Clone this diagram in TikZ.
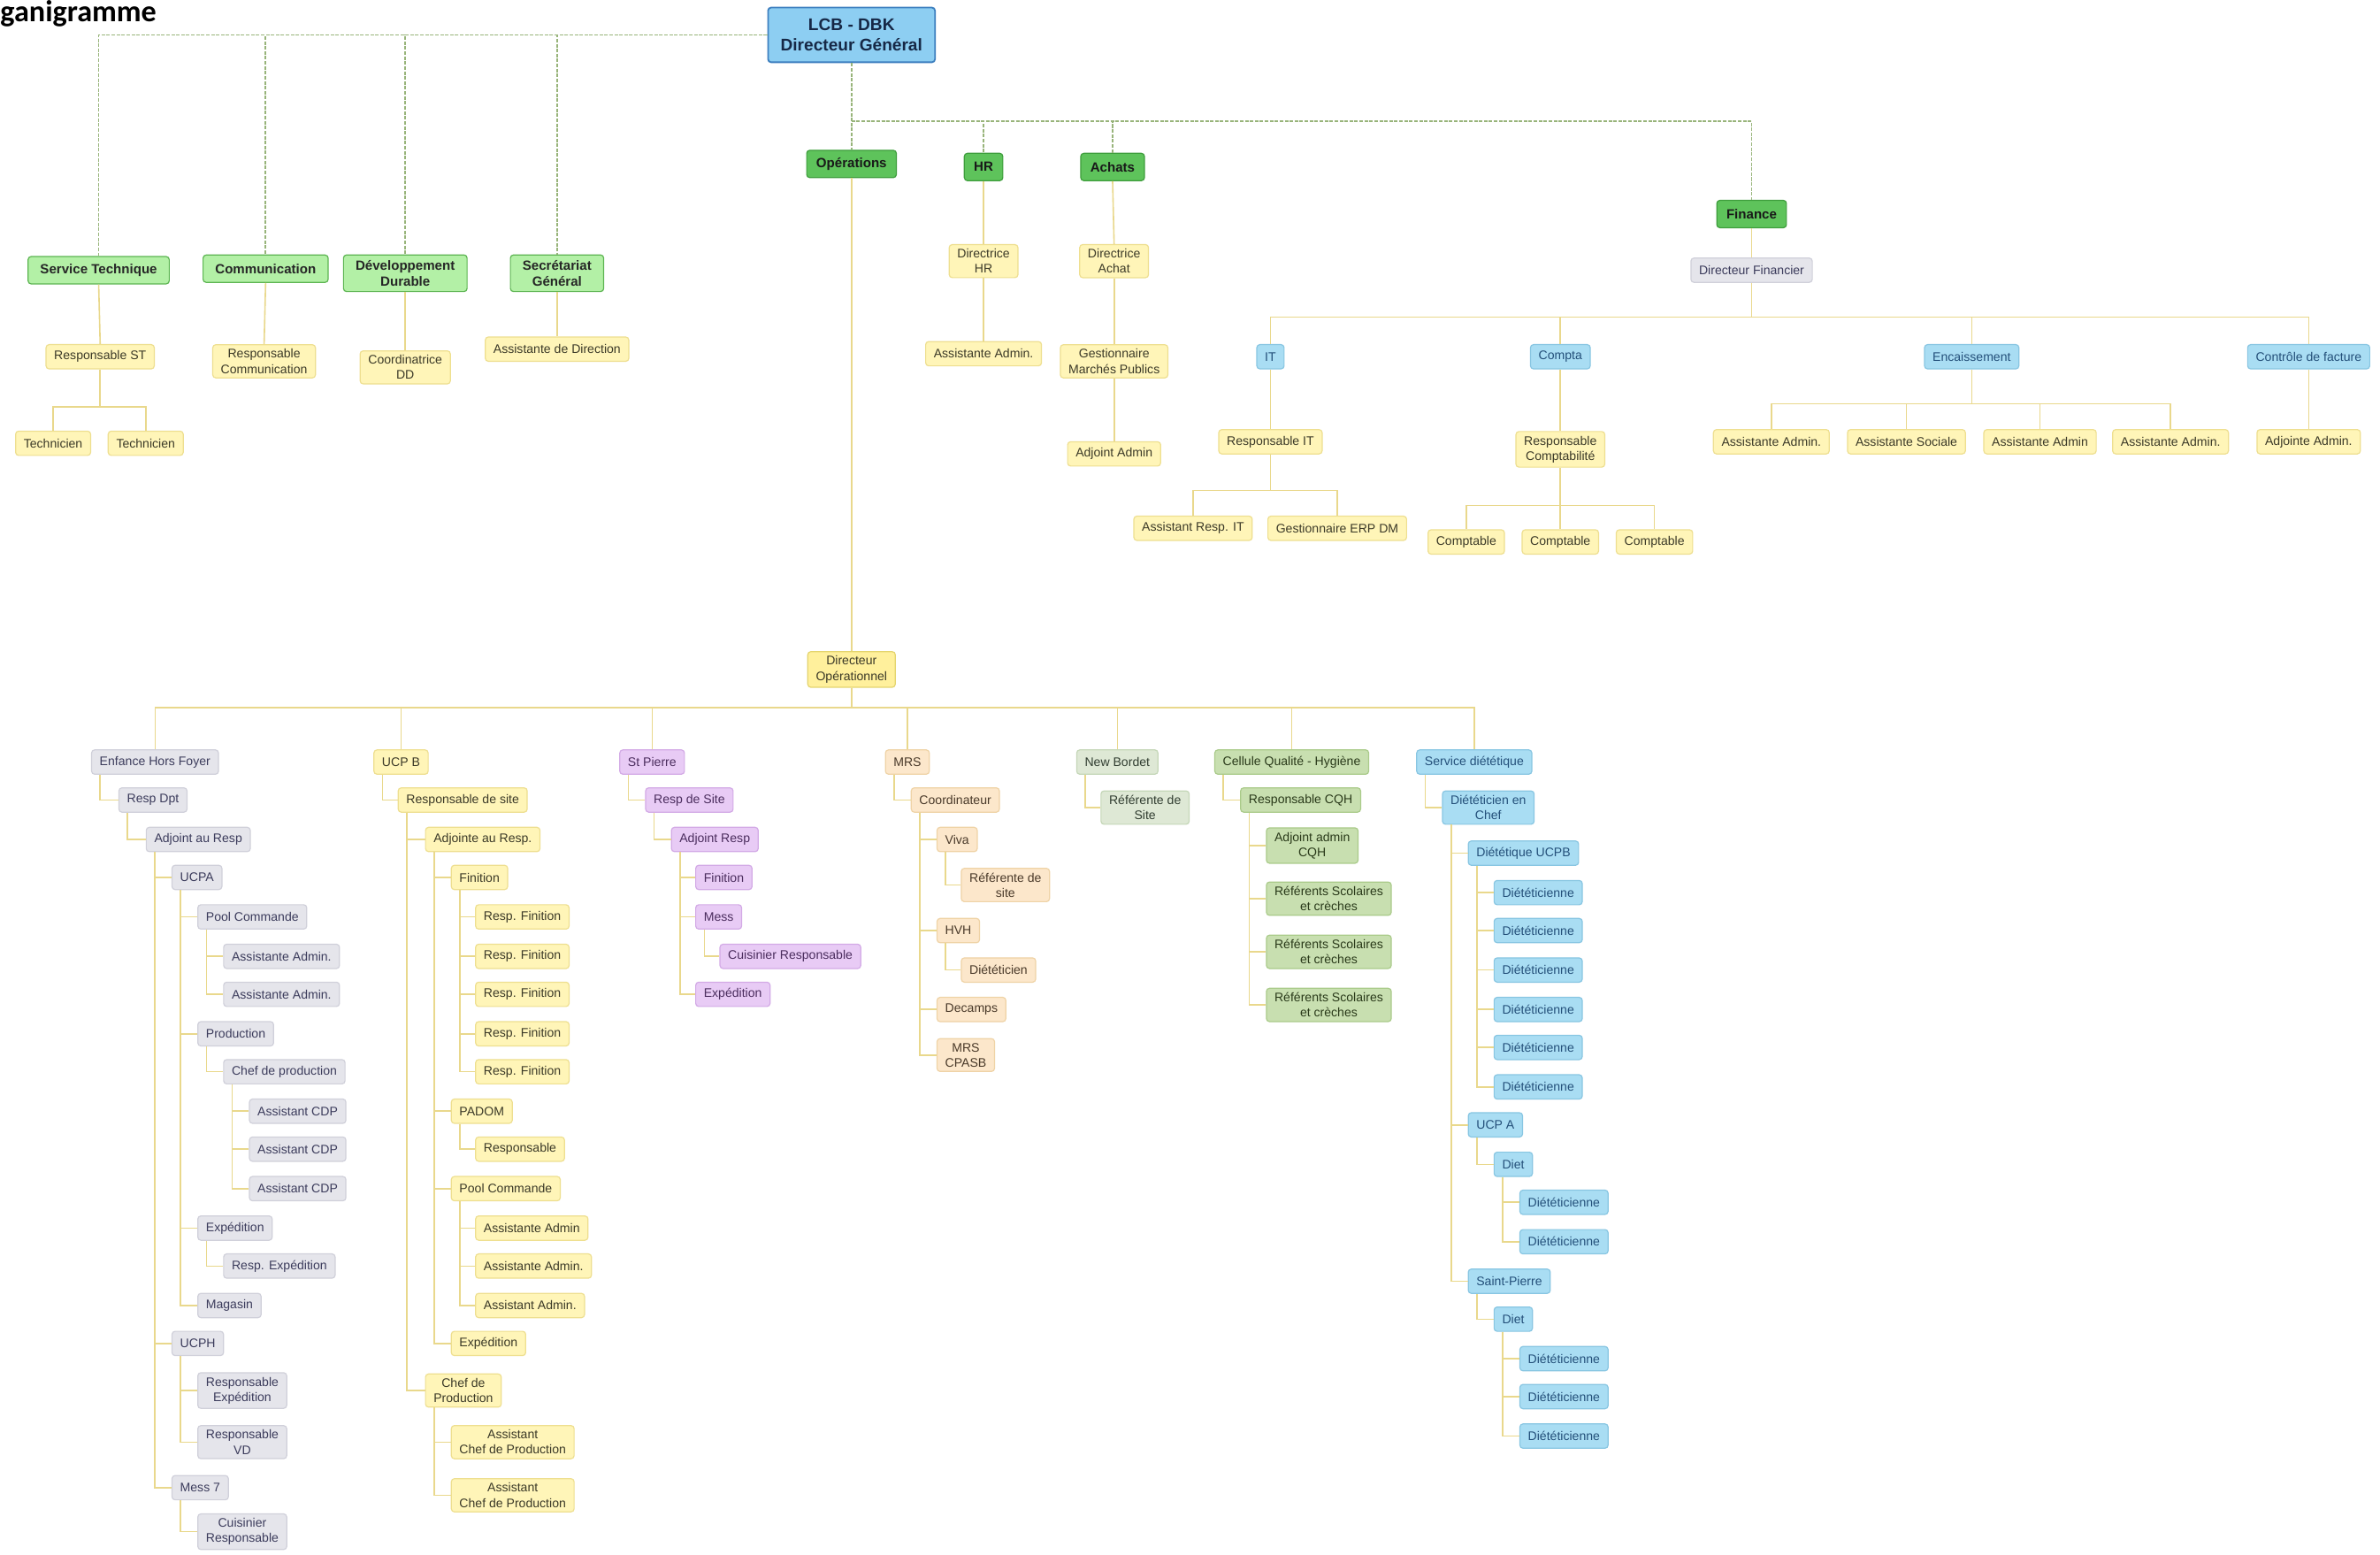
\documentclass[tikz,border=0pt]{standalone}
\usepackage{fontspec}
\setmainfont{Liberation Sans}
\newfontfamily\titlefont{Carlito}
\usepackage{tikz}

\definecolor{dgfill}{HTML}{8DCEF2}
\definecolor{dgline}{HTML}{3D7FBF}
\definecolor{deptfill}{HTML}{B3F0A6}
\definecolor{deptline}{HTML}{5DB552}
\definecolor{polefill}{HTML}{5EC35B}
\definecolor{poleline}{HTML}{3E9E3C}
\definecolor{yelfill}{HTML}{FFF5B8}
\definecolor{yelline}{HTML}{EEDF90}
\definecolor{opfill}{HTML}{FFF09C}
\definecolor{gryfill}{HTML}{E5E5EB}
\definecolor{gryline}{HTML}{D0D0DA}
\definecolor{blufill}{HTML}{A9DDF3}
\definecolor{bluline}{HTML}{88C6E2}
\definecolor{purfill}{HTML}{E8CBF5}
\definecolor{purline}{HTML}{D3AAE6}
\definecolor{pchfill}{HTML}{FCE7CB}
\definecolor{pchline}{HTML}{EFD3A6}
\definecolor{sagfill}{HTML}{DEE8D5}
\definecolor{sagline}{HTML}{C5D7B8}
\definecolor{cqhfill}{HTML}{C8DFB0}
\definecolor{cqhline}{HTML}{AACB8A}
\definecolor{tancol}{HTML}{E9D88C}
\definecolor{topcol}{HTML}{98B47A}

\newcommand{\sublink}[2]{\draw[tline] ([xshift=1.8mm]#1.south west) |- (#2.west);}

\begin{document}
\begin{tikzpicture}[x=0.3mm, y=-0.3mm,
	box/.style={rounded corners=0.6mm, line width=0.6pt, font=\fontsize{7}{8.5}\selectfont, inner xsep=1.6mm, inner ysep=2.5pt, minimum height=4.8mm, align=center, text=black!78},
	yel/.style={box, fill=yelfill, draw=yelline, text={rgb,255:red,60;green,58;blue,40}},
	yop/.style={box, fill=opfill, draw={rgb,255:red,228;green,212;blue,110}, text={rgb,255:red,60;green,58;blue,40}},
	gry/.style={box, fill=gryfill, draw=gryline, text={rgb,255:red,60;green,60;blue,92}},
	blu/.style={box, fill=blufill, draw=bluline, text={rgb,255:red,36;green,80;blue,122}},
	pur/.style={box, fill=purfill, draw=purline, text={rgb,255:red,75;green,45;blue,94}},
	pch/.style={box, fill=pchfill, draw=pchline, text={rgb,255:red,74;green,58;blue,42}},
	sag/.style={box, fill=sagfill, draw=sagline, text={rgb,255:red,50;green,62;blue,50}},
	cqh/.style={box, fill=cqhfill, draw=cqhline, text={rgb,255:red,42;green,58;blue,26}},
	dept/.style={box, fill=deptfill, draw=deptline, font=\bfseries\fontsize{7.5}{9}\selectfont, inner xsep=2.4mm, inner ysep=3pt, minimum height=5.4mm, text=black!85},
	pole/.style={box, fill=polefill, draw=poleline, font=\bfseries\fontsize{7.5}{9}\selectfont, inner xsep=1.9mm, minimum height=5.4mm, text=black!90},
	topbox/.style={box, fill=dgfill, draw=dgline, line width=0.9pt, font=\bfseries\fontsize{9.5}{11.5}\selectfont, minimum height=10.8mm, minimum width=33mm, text={rgb,255:red,22;green,40;blue,70}},
	tw/.style={anchor=west},
	tline/.style={draw=tancol, line width=0.8pt},
	gline/.style={draw=topcol, line width=0.9pt, dash pattern=on 2pt off 0.8pt}]

	\path[use as bounding box, fill=white] (0,0) rectangle (1568,1024);

	\node[font={\titlefont\bfseries\fontsize{17}{20}\selectfont}, anchor=west, inner sep=0pt] (ttl) at (0,9) {ganigramme};

	\node[topbox] (dg) at (561,23) {LCB - DBK\\Directeur Général};

	\node[dept] (st) at (65,178) {Service Technique};
	\node[dept] (com) at (175,177) {Communication};
	\node[dept] (dd) at (267,180) {Développement\\Durable};
	\node[dept] (sg) at (367,180) {Secrétariat\\Général};

	\node[pole] (ops) at (561,108) {Opérations};
	\node[pole] (hr) at (648,110) {HR};
	\node[pole] (ach) at (733,110) {Achats};
	\node[pole] (fin) at (1154,141) {Finance};

	\node[yel] (rst) at (66,235) {Responsable ST};
	\node[yel] (tec1) at (35,292) {Technicien};
	\node[yel] (tec2) at (96,292) {Technicien};
	\node[yel] (rcom) at (174,238) {Responsable\\Communication};
	\node[yel] (cdd) at (267,242) {Coordinatrice\\DD};
	\node[yel] (adir) at (367,230) {Assistante de Direction};

	\node[yel] (dhr) at (648,172) {Directrice\\HR};
	\node[yel] (ahr) at (648,233) {Assistante Admin.};
	\node[yel] (dach) at (734,172) {Directrice\\Achat};
	\node[yel] (gmp) at (734,238) {Gestionnaire\\Marchés Publics};
	\node[yel] (aach) at (734,299) {Adjoint Admin};

	\node[gry] (dfin) at (1154,178) {Directeur Financier};
	\node[blu] (it) at (837,235) {IT};
	\node[blu] (cpt) at (1028,235) {Compta};
	\node[blu] (enc) at (1299,235) {Encaissement};
	\node[blu] (cdf) at (1521,235) {Contrôle de facture};
	\node[yel] (rit) at (837,291) {Responsable IT};
	\node[yel] (arit) at (786,348) {Assistant Resp. IT};
	\node[yel] (erp) at (881,348) {Gestionnaire ERP DM};
	\node[yel] (rcpt) at (1028,296) {Responsable\\Comptabilité};
	\node[yel] (cpt1) at (966,357) {Comptable};
	\node[yel] (cpt2) at (1028,357) {Comptable};
	\node[yel] (cpt3) at (1090,357) {Comptable};
	\node[yel] (enc1) at (1167,291) {Assistante Admin.};
	\node[yel] (enc2) at (1256,291) {Assistante Sociale};
	\node[yel] (enc3) at (1344,291) {Assistante Admin};
	\node[yel] (enc4) at (1430,291) {Assistante Admin.};
	\node[yel] (adf) at (1521,291) {Adjointe Admin.};

	\node[yop] (dop) at (561,441) {Directeur\\Opérationnel};

	\node[gry,tw] (e1) at (60,502) {Enfance Hors Foyer};
	\node[gry,tw] (e2) at (78,527) {Resp Dpt};
	\node[gry,tw] (e3) at (96,553) {Adjoint au Resp};
	\node[gry,tw] (e4) at (113,578) {UCPA};
	\node[gry,tw] (e5) at (130,604) {Pool Commande};
	\node[gry,tw] (e6) at (147,630) {Assistante Admin.};
	\node[gry,tw] (e7) at (147,655) {Assistante Admin.};
	\node[gry,tw] (e8) at (130,681) {Production};
	\node[gry,tw] (e9) at (147,706) {Chef de production};
	\node[gry,tw] (e10) at (164,732) {Assistant CDP};
	\node[gry,tw] (e11) at (164,757) {Assistant CDP};
	\node[gry,tw] (e12) at (164,783) {Assistant CDP};
	\node[gry,tw] (e13) at (130,809) {Expédition};
	\node[gry,tw] (e14) at (147,834) {Resp. Expédition};
	\node[gry,tw] (e15) at (130,860) {Magasin};
	\node[gry,tw] (e16) at (113,885) {UCPH};
	\node[gry,tw] (e17) at (130,916) {Responsable\\Expédition};
	\node[gry,tw] (e18) at (130,950) {Responsable\\VD};
	\node[gry,tw] (e19) at (113,980) {Mess 7};
	\node[gry,tw] (e20) at (130,1009) {Cuisinier\\Responsable};

	\node[yel,tw] (u1) at (246,502) {UCP B};
	\node[yel,tw] (u2) at (262,527) {Responsable de site};
	\node[yel,tw] (u3) at (280,553) {Adjointe au Resp.};
	\node[yel,tw] (u4) at (297,578) {Finition};
	\node[yel,tw] (u5) at (313,604) {Resp. Finition};
	\node[yel,tw] (u6) at (313,630) {Resp. Finition};
	\node[yel,tw] (u7) at (313,655) {Resp. Finition};
	\node[yel,tw] (u8) at (313,681) {Resp. Finition};
	\node[yel,tw] (u9) at (313,706) {Resp. Finition};
	\node[yel,tw] (u10) at (297,732) {PADOM};
	\node[yel,tw] (u11) at (313,757) {Responsable};
	\node[yel,tw] (u12) at (297,783) {Pool Commande};
	\node[yel,tw] (u13) at (313,809) {Assistante Admin};
	\node[yel,tw] (u14) at (313,834) {Assistante Admin.};
	\node[yel,tw] (u15) at (313,860) {Assistant Admin.};
	\node[yel,tw] (u16) at (297,885) {Expédition};
	\node[yel,tw] (u17) at (280,916) {Chef de\\Production};
	\node[yel,tw] (u18) at (297,950) {Assistant\\Chef de Production};
	\node[yel,tw] (u19) at (297,985) {Assistant\\Chef de Production};

	\node[pur,tw] (p1) at (408,502) {St Pierre};
	\node[pur,tw] (p2) at (425,527) {Resp de Site};
	\node[pur,tw] (p3) at (442,553) {Adjoint Resp};
	\node[pur,tw] (p4) at (458,578) {Finition};
	\node[pur,tw] (p5) at (458,604) {Mess};
	\node[pur,tw] (p6) at (474,630) {Cuisinier Responsable};
	\node[pur,tw] (p7) at (458,655) {Expédition};

	\node[pch,tw] (m1) at (583,502) {MRS};
	\node[pch,tw] (m2) at (600,527) {Coordinateur};
	\node[pch,tw] (m3) at (617,553) {Viva};
	\node[pch,tw] (m4) at (633,583) {Référente de\\site};
	\node[pch,tw] (m5) at (617,613) {HVH};
	\node[pch,tw] (m6) at (633,639) {Diététicien};
	\node[pch,tw] (m7) at (617,665) {Decamps};
	\node[pch,tw] (m8) at (617,695) {MRS\\CPASB};

	\node[sag,tw] (n1) at (709,502) {New Bordet};
	\node[sag,tw] (n2) at (725,532) {Référente de\\Site};

	\node[cqh,tw] (q1) at (800,502) {Cellule Qualité - Hygiène};
	\node[cqh,tw] (q2) at (817,527) {Responsable CQH};
	\node[cqh,tw] (q3) at (834,557) {Adjoint admin\\CQH};
	\node[cqh,tw] (q4) at (834,592) {Référents Scolaires\\et crèches};
	\node[cqh,tw] (q5) at (834,627) {Référents Scolaires\\et crèches};
	\node[cqh,tw] (q6) at (834,662) {Référents Scolaires\\et crèches};

	\node[blu,tw] (s1) at (933,502) {Service diététique};
	\node[blu,tw] (s2) at (950,532) {Diététicien en\\Chef};
	\node[blu,tw] (s3) at (967,562) {Diététique UCPB};
	\node[blu,tw] (s4) at (984,588) {Diététicienne};
	\node[blu,tw] (s5) at (984,613) {Diététicienne};
	\node[blu,tw] (s6) at (984,639) {Diététicienne};
	\node[blu,tw] (s7) at (984,665) {Diététicienne};
	\node[blu,tw] (s8) at (984,690) {Diététicienne};
	\node[blu,tw] (s9) at (984,716) {Diététicienne};
	\node[blu,tw] (s10) at (967,741) {UCP A};
	\node[blu,tw] (s11) at (984,767) {Diet};
	\node[blu,tw] (s12) at (1001,792) {Diététicienne};
	\node[blu,tw] (s13) at (1001,818) {Diététicienne};
	\node[blu,tw] (s14) at (967,844) {Saint-Pierre};
	\node[blu,tw] (s15) at (984,869) {Diet};
	\node[blu,tw] (s16) at (1001,895) {Diététicienne};
	\node[blu,tw] (s17) at (1001,920) {Diététicienne};
	\node[blu,tw] (s18) at (1001,946) {Diététicienne};

	\coordinate (bdg) at (561,80);
	\coordinate (bst) at (66,268);
	\coordinate (bfin) at (1154,209);
	\coordinate (brit) at (837,323);
	\coordinate (brc) at (1028,333);
	\coordinate (benc) at (1299,266);
	\coordinate (bop) at (561,466);

	\draw[gline] (dg.west) -| (st.north);
	\draw[gline] (dg.west) -| (com.north);
	\draw[gline] (dg.west) -| (dd.north);
	\draw[gline] (dg.west) -| (sg.north);
	\draw[gline] (dg.south) -- (ops.north);
	\draw[gline] (bdg) -| (hr.north);
	\draw[gline] (bdg) -| (ach.north);
	\draw[gline] (bdg) -| (fin.north);

	\draw[tline] (st.south) -- (rst.north);
	\draw[tline] (rst.south) -- (bst);
	\draw[tline] (bst) -| (tec1.north);
	\draw[tline] (bst) -| (tec2.north);
	\draw[tline] (com.south) -- (rcom.north);
	\draw[tline] (dd.south) -- (cdd.north);
	\draw[tline] (sg.south) -- (adir.north);

	\draw[tline] (hr.south) -- (dhr.north);
	\draw[tline] (dhr.south) -- (ahr.north);
	\draw[tline] (ach.south) -- (dach.north);
	\draw[tline] (dach.south) -- (gmp.north);
	\draw[tline] (gmp.south) -- (aach.north);

	\draw[tline] (fin.south) -- (dfin.north);
	\draw[tline] (dfin.south) -- (bfin);
	\draw[tline] (bfin) -| (it.north);
	\draw[tline] (bfin) -| (cpt.north);
	\draw[tline] (bfin) -| (enc.north);
	\draw[tline] (bfin) -| (cdf.north);
	\draw[tline] (it.south) -- (rit.north);
	\draw[tline] (rit.south) -- (brit);
	\draw[tline] (brit) -| (arit.north);
	\draw[tline] (brit) -| (erp.north);
	\draw[tline] (cpt.south) -- (rcpt.north);
	\draw[tline] (rcpt.south) -- (brc);
	\draw[tline] (brc) -| (cpt1.north);
	\draw[tline] (brc) -| (cpt2.north);
	\draw[tline] (brc) -| (cpt3.north);
	\draw[tline] (enc.south) -- (benc);
	\draw[tline] (benc) -| (enc1.north);
	\draw[tline] (benc) -| (enc2.north);
	\draw[tline] (benc) -| (enc3.north);
	\draw[tline] (benc) -| (enc4.north);
	\draw[tline] (cdf.south) -- (adf.north);

	\draw[tline] (ops.south) -- (dop.north);
	\draw[tline] (dop.south) -- (bop);
	\draw[tline] (bop) -| (e1.north);
	\draw[tline] (bop) -| (u1.north);
	\draw[tline] (bop) -| (p1.north);
	\draw[tline] (bop) -| (m1.north);
	\draw[tline] (bop) -| (n1.north);
	\draw[tline] (bop) -| (q1.north);
	\draw[tline] (bop) -| (s1.north);

	\sublink{e1}{e2}
	\sublink{e2}{e3}
	\sublink{e3}{e4}
	\sublink{e3}{e16}
	\sublink{e3}{e19}
	\sublink{e4}{e5}
	\sublink{e4}{e8}
	\sublink{e4}{e13}
	\sublink{e4}{e15}
	\sublink{e5}{e6}
	\sublink{e5}{e7}
	\sublink{e8}{e9}
	\sublink{e9}{e10}
	\sublink{e9}{e11}
	\sublink{e9}{e12}
	\sublink{e13}{e14}
	\sublink{e16}{e17}
	\sublink{e16}{e18}
	\sublink{e19}{e20}

	\sublink{u1}{u2}
	\sublink{u2}{u3}
	\sublink{u2}{u17}
	\sublink{u3}{u4}
	\sublink{u3}{u10}
	\sublink{u3}{u12}
	\sublink{u3}{u16}
	\sublink{u4}{u5}
	\sublink{u4}{u6}
	\sublink{u4}{u7}
	\sublink{u4}{u8}
	\sublink{u4}{u9}
	\sublink{u10}{u11}
	\sublink{u12}{u13}
	\sublink{u12}{u14}
	\sublink{u12}{u15}
	\sublink{u17}{u18}
	\sublink{u17}{u19}

	\sublink{p1}{p2}
	\sublink{p2}{p3}
	\sublink{p3}{p4}
	\sublink{p3}{p5}
	\sublink{p3}{p7}
	\sublink{p5}{p6}

	\sublink{m1}{m2}
	\sublink{m2}{m3}
	\sublink{m2}{m5}
	\sublink{m2}{m7}
	\sublink{m2}{m8}
	\sublink{m3}{m4}
	\sublink{m5}{m6}

	\sublink{n1}{n2}

	\sublink{q1}{q2}
	\sublink{q2}{q3}
	\sublink{q2}{q4}
	\sublink{q2}{q5}
	\sublink{q2}{q6}

	\sublink{s1}{s2}
	\sublink{s2}{s3}
	\sublink{s2}{s10}
	\sublink{s2}{s14}
	\sublink{s3}{s4}
	\sublink{s3}{s5}
	\sublink{s3}{s6}
	\sublink{s3}{s7}
	\sublink{s3}{s8}
	\sublink{s3}{s9}
	\sublink{s10}{s11}
	\sublink{s11}{s12}
	\sublink{s11}{s13}
	\sublink{s14}{s15}
	\sublink{s15}{s16}
	\sublink{s15}{s17}
	\sublink{s15}{s18}

\end{tikzpicture}
\end{document}
